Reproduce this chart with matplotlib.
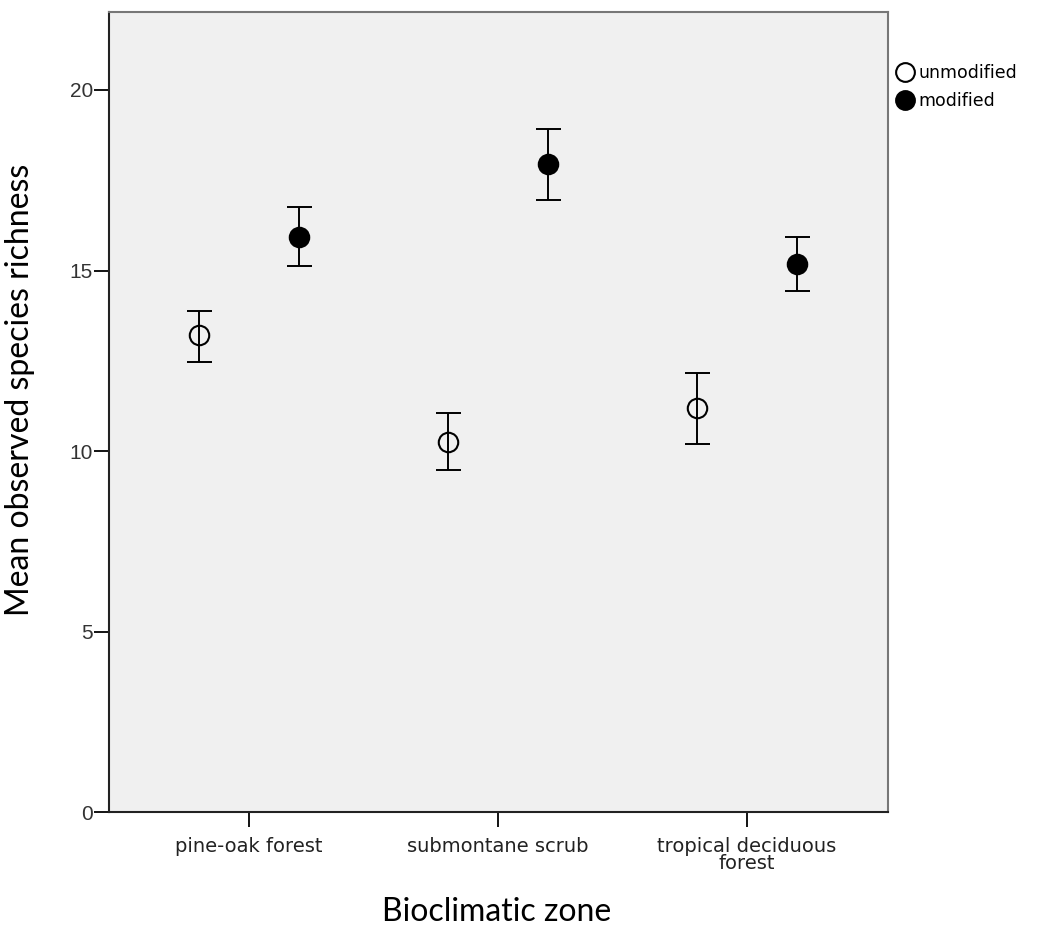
import numpy as np
import matplotlib.pyplot as plt

# mean richness and error-bar limits per bioclimatic zone
zones = ['pine-oak forest', 'submontane scrub', 'tropical deciduous\nforest']
unmod_mean = [13.20, 10.26, 11.18]
unmod_low = [12.47, 9.47, 10.19]
unmod_high = [13.88, 11.04, 12.15]
mod_mean = [15.92, 17.94, 15.17]
mod_low = [15.12, 16.94, 14.43]
mod_high = [16.75, 18.91, 15.93]

x = np.arange(len(zones))
off = 0.2

plt.rcParams['font.family'] = ['Liberation Sans', 'DejaVu Sans']

fig = plt.figure(figsize=(10.61, 9.46), dpi=100)
ax = fig.add_axes([0.1027, 0.1416, 0.7343, 0.8457])
ax.set_facecolor('#f0f0f0')

def draw(xs, mean, low, high, face, label):
    mean = np.array(mean)
    err = [mean - np.array(low), np.array(high) - mean]
    ax.errorbar(xs, mean, yerr=err, fmt='none', ecolor='black', elinewidth=1.4,
                capsize=9, capthick=1.4, zorder=2)
    ax.plot(xs, mean, 'o', ms=14, mfc=face, mec='black', mew=1.5, ls='none',
            label=label, zorder=3)

draw(x - off, unmod_mean, unmod_low, unmod_high, 'none', 'unmodified')
draw(x + off, mod_mean, mod_low, mod_high, 'black', 'modified')

ax.set_xlim(-0.562, 2.566)
ax.set_ylim(0, 22.16)
ax.set_yticks([0, 5, 10, 15, 20])
ax.set_xticks(x)
ax.set_xticklabels(zones, linespacing=0.85)
ax.tick_params(axis='x', length=11, width=1.3, pad=7, labelsize=14,
               labelfontfamily='DejaVu Sans', labelcolor='#222222')
ax.tick_params(axis='y', length=11, width=1.3, pad=0.5, labelsize=15,
               labelcolor='#333333')

for s in ['left', 'bottom']:
    ax.spines[s].set_color('#222222')
    ax.spines[s].set_linewidth(1.5)
for s in ['top', 'right']:
    ax.spines[s].set_color('#777777')
    ax.spines[s].set_linewidth(1.5)

fig.text(0.468, 0.036, 'Bioclimatic zone', ha='center', va='center', fontsize=23,
         family=['Lato', 'DejaVu Sans'])
fig.text(0.019, 0.588, 'Mean observed species richness', ha='center', va='center',
         rotation=90, fontsize=23, family=['Lato', 'DejaVu Sans'])

leg = ax.legend(loc='upper left', bbox_to_anchor=(1.0, 0.944), frameon=False,
                handletextpad=0.15, handlelength=1.2, borderaxespad=0, labelspacing=0.6,
                prop={'family': 'DejaVu Sans', 'size': 12.5})
for h in leg.legend_handles:
    h.set_markersize(13.5)

fig.savefig('out.png', dpi=100)
